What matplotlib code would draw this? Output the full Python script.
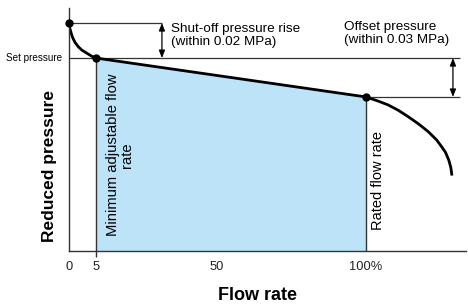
import matplotlib
matplotlib.use("Agg")
import matplotlib.pyplot as plt

plt.rcParams['font.family'] = ['Liberation Sans', 'DejaVu Sans']

# schematic values (flow in %-like units, pressure in arbitrary units)
flow_rise = [0, 0.1, 0.3, 0.7, 1.2, 2.0, 3.1, 4.3, 6.0, 7.6, 9.1]
pres_rise = [93.8, 93.0, 91.6, 89.8, 87.9, 85.9, 84.1, 82.7, 81.4, 80.2, 79.4]
flow_main = [9.1, 100]
pres_main = [79.4, 63.4]
flow_drop = [100, 104.1, 107.5, 110.9, 114.2, 117.6, 121.0, 123.8, 125.5, 126.8, 127.9, 128.6, 128.9]
pres_drop = [63.4, 61.7, 60.1, 57.9, 55.3, 52.4, 49.1, 45.7, 42.9, 40.6, 37.4, 34.3, 31.6]

tick_pos = [0, 9.1, 49.8, 100]
tick_labels = ['0', '5', '50', '100%']

shutoff_x = 31.3
offset_x = 129.3
ref_end = 131.6

W, H = 468, 307
fig = plt.figure(figsize=(W / 100, H / 100), dpi=100)
ax = fig.add_axes([69 / W, (H - 251) / H, 397 / W, 243 / H])
ax.set_xlim(0, 133.7)
ax.set_ylim(0, 100)

for s in ['top', 'right']:
    ax.spines[s].set_visible(False)
for s in ['left', 'bottom']:
    ax.spines[s].set_color('#333333')
    ax.spines[s].set_linewidth(1.0)

dark = '#333333'

# blue area
ax.fill_between(flow_main, pres_main, 0, color='#bde3f8', lw=0)
ax.vlines(flow_main[0], -2.5, pres_main[0], color=dark, lw=1, clip_on=False)
ax.vlines(flow_main[1], 0, pres_main[1], color=dark, lw=1)

# reference lines
ax.hlines(pres_rise[0], 0, shutoff_x, color=dark, lw=0.9)
ax.hlines(pres_main[0], 0, ref_end, color=dark, lw=0.9)
ax.hlines(pres_main[1], flow_main[1], ref_end, color=dark, lw=0.9)

arrow = dict(arrowstyle='<|-|>,head_length=0.45,head_width=0.18', color='black', lw=0.9,
             shrinkA=0, shrinkB=0)
ax.annotate('', xy=(shutoff_x, pres_rise[0]), xytext=(shutoff_x, pres_main[0]), arrowprops=arrow)
ax.annotate('', xy=(offset_x, pres_main[0]), xytext=(offset_x, pres_main[1]), arrowprops=arrow)

# characteristic curve
ax.plot(flow_rise, pres_rise, color='black', lw=2)
ax.plot(flow_main, pres_main, color='black', lw=2)
ax.plot(flow_drop, pres_drop, color='black', lw=2)
ax.plot([flow_rise[0], flow_main[0], flow_main[1]], [pres_rise[0], pres_main[0], pres_main[1]],
        'o', color='black', ms=5, clip_on=False, zorder=5)

ax.set_xticks(tick_pos)
ax.set_xticklabels(tick_labels, fontsize=9.3, color='#222222')
ax.set_yticks([])
ax.tick_params(axis='x', length=0, pad=7)
ax.set_xticks([49.8], minor=True)
ax.tick_params(axis='x', which='minor', direction='in', length=8, color=dark, width=1)

ax.text(-2.4, pres_main[0], 'Set pressure', fontsize=7.1, ha='right', va='center', clip_on=False)
ax.text(34.3, 88.7, 'Shut-off pressure rise\n(within 0.02 MPa)', fontsize=9.7, ha='left', va='center',
        linespacing=1.2)
ax.text(92.6, 89.5, 'Offset pressure\n(within 0.03 MPa)', fontsize=9.7, ha='left', va='center',
        linespacing=1.2)
ax.text(17.2, 39.5, 'Minimum adjustable flow\nrate', fontsize=10.6, rotation=90, ha='center',
        va='center', multialignment='center', linespacing=0.95)
ax.text(104.0, 29.2, 'Rated flow rate', fontsize=10.5, rotation=90, ha='center', va='center')

ax.set_xlabel('Flow rate', fontsize=13, fontweight='bold')
ax.xaxis.set_label_coords(0.475, -0.148)
ax.set_ylabel('Reduced pressure', fontsize=12.5, fontweight='bold')
ax.yaxis.set_label_coords(-0.03, 0.35)

fig.savefig('out.png', dpi=100)
